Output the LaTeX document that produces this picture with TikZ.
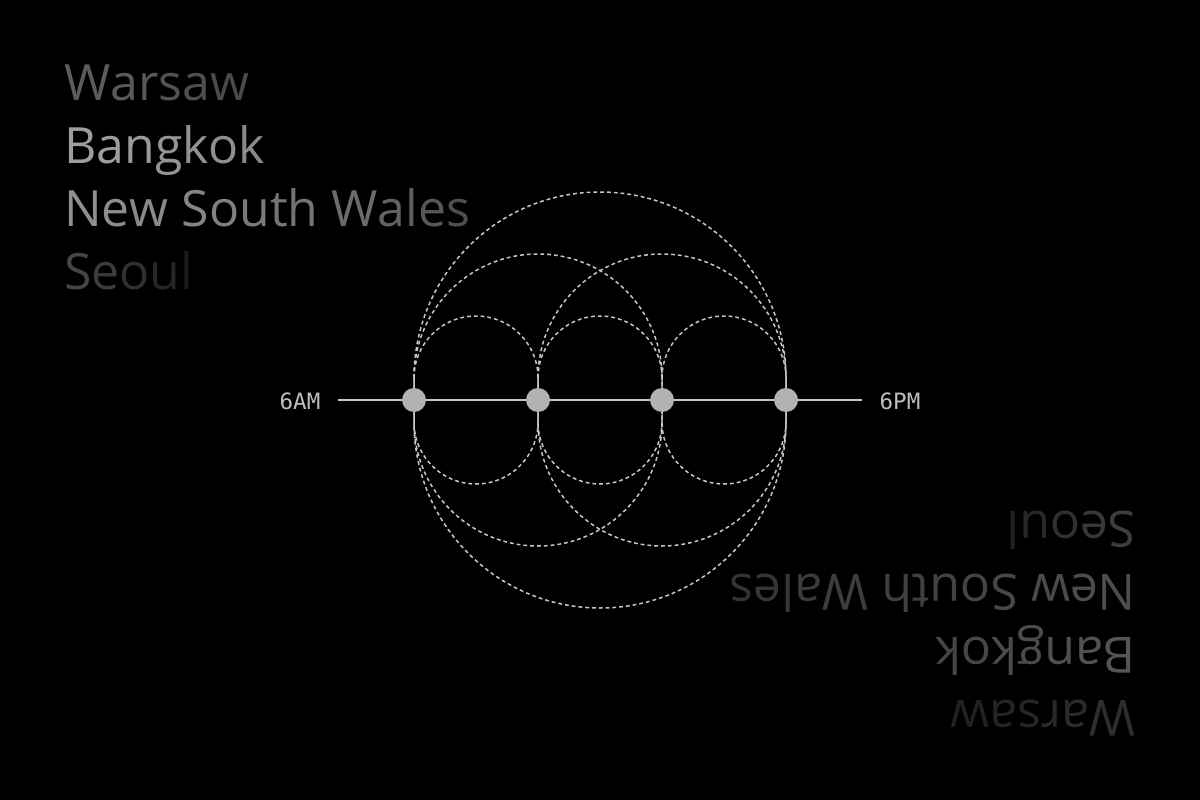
\documentclass[tikz,border=0pt]{standalone}
\usetikzlibrary{calc}
\usepackage{fontspec}
\setmainfont{Open Sans}
\newfontfamily\monof{DejaVu Sans Mono}
\newcommand\g[2]{\textcolor[gray]{#1}{#2}}
\definecolor{lineg}{gray}{0.78}
\definecolor{dotg}{gray}{0.70}
\definecolor{labg}{gray}{0.75}
\begin{document}
\begin{tikzpicture}[x=1pt,y=-1pt,
  city/.style={anchor=base west,inner sep=0pt,font=\fontsize{50}{50}\selectfont},
  cityr/.style={city,rotate=180},
  loopline/.style={draw=lineg,line width=1.5pt,dash pattern=on 3.8pt off 3pt},
  dotnode/.style={circle,fill=dotg,minimum size=24pt,inner sep=0pt},
  lab/.style={anchor=base,inner sep=0pt,text=labg,font=\monof\fontsize{22.5}{22.5}\selectfont}]
\fill[black] (0,0) rectangle (1200,800);
\useasboundingbox (0,0) rectangle (1200,800);
% city lists
\node[city] (w1) at (64,100) {\g{.36}{W}\g{.35}{a}\g{.34}{r}\g{.32}{s}\g{.31}{a}\g{.29}{w}};
\node[city] (b1) at (64,163) {\g{.62}{B}\g{.61}{a}\g{.60}{n}\g{.58}{g}\g{.57}{k}\g{.56}{o}\g{.54}{k}};
\node[city] (n1) at (64,226) {\g{.56}{N}\g{.55}{e}\g{.54}{w} \g{.52}{S}\g{.50}{o}\g{.48}{u}\g{.46}{t}\g{.45}{h} \g{.42}{W}\g{.39}{a}\g{.37}{l}\g{.34}{e}\g{.31}{s}};
\node[city] (s1) at (64,289) {\g{.27}{S}\g{.23}{e}\g{.19}{o}\g{.15}{u}\g{.11}{l}};
\node[cityr] (w2) at (1136,700) {\g{.18}{W}\g{.17}{a}\g{.16}{r}\g{.15}{s}\g{.14}{a}\g{.13}{w}};
\node[cityr] (b2) at (1136,637) {\g{.33}{B}\g{.32}{a}\g{.31}{n}\g{.30}{g}\g{.29}{k}\g{.28}{o}\g{.27}{k}};
\node[cityr] (n2) at (1136,574) {\g{.30}{N}\g{.30}{e}\g{.29}{w} \g{.28}{S}\g{.27}{o}\g{.26}{u}\g{.25}{t}\g{.25}{h} \g{.24}{W}\g{.23}{a}\g{.22}{l}\g{.21}{e}\g{.20}{s}};
\node[cityr] (s2) at (1136,511) {\g{.24}{S}\g{.22}{e}\g{.19}{o}\g{.16}{u}\g{.13}{l}};
% timeline
\node[lab] (am) at (300,409) {6AM};
\node[lab] (pm) at (900,409) {6PM};
\coordinate (ls) at (338,400);
\coordinate (le) at (862,400);
\coordinate (c1) at (414,400);
\coordinate (c2) at (538,400);
\coordinate (c3) at (662,400);
\coordinate (c4) at (786,400);
% loops
\foreach \a/\r in {c1/62,c2/62,c3/62,c1/124,c2/124,c1/186}{
  \draw[loopline] ($(\a)+(0,-22)$) arc[start angle=180,end angle=360,radius=\r]
     -- ++(0,44) arc[start angle=0,end angle=180,radius=\r] -- cycle;
}
\draw[draw=lineg,line width=2pt] (ls) -- (le);
\node[dotnode] (d1) at (c1) {};
\node[dotnode] (d2) at (c2) {};
\node[dotnode] (d3) at (c3) {};
\node[dotnode] (d4) at (c4) {};
\end{tikzpicture}
\end{document}
